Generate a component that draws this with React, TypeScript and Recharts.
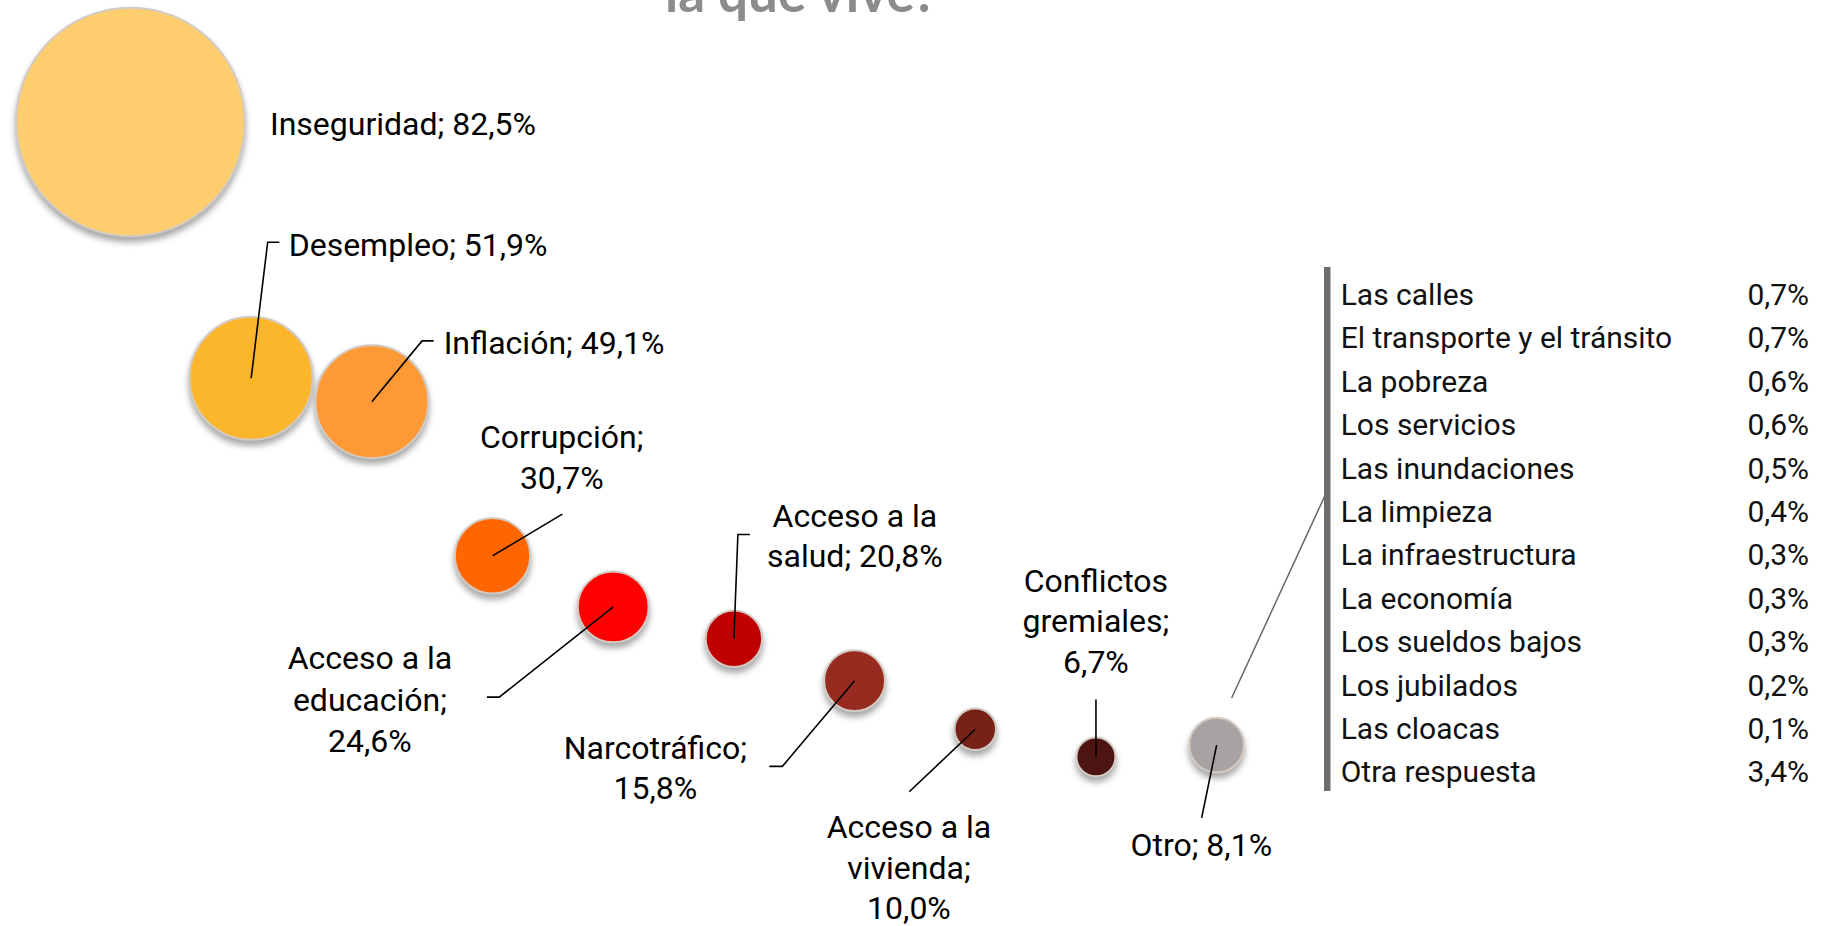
import React from 'react';
import { ScatterChart, Scatter, XAxis, YAxis, ZAxis, Cell } from 'recharts';

// ---- data ----
const categories = [
  'Inseguridad',
  'Desempleo',
  'Inflación',
  'Corrupción',
  'Acceso a la educación',
  'Acceso a la salud',
  'Narcotráfico',
  'Acceso a la vivienda',
  'Conflictos gremiales',
  'Otro',
];
const positions = [1, 2, 3, 4, 5, 6, 7, 8, 9, 10];
const percentages = [82.5, 51.9, 49.1, 30.7, 24.6, 20.8, 15.8, 10.0, 6.7, 8.1];
const bubbleSizes = [100, 29.0, 24.4, 10.9, 9.6, 6.1, 7.1, 3.3, 2.9, 5.7];

const otherCategories = [
  'Las calles',
  'El transporte y el tránsito',
  'La pobreza',
  'Los servicios',
  'Las inundaciones',
  'La limpieza',
  'La infraestructura',
  'La economía',
  'Los sueldos bajos',
  'Los jubilados',
  'Las cloacas',
  'Otra respuesta',
];
const otherValues = [0.7, 0.7, 0.6, 0.6, 0.5, 0.4, 0.3, 0.3, 0.3, 0.2, 0.1, 3.4];
const titleText = 'la que vive?';

// ---- styles ----
const bubbleColors = [
  '#FECD6E', '#FCB62C', '#FD9A36', '#FF6600', '#FF0000',
  '#C00000', '#982B1F', '#772219', '#4C1512', '#A6A3A2',
];

// label layout relative to bubble centre (manual label placement of the original)
type Layout = {
  lines: number[];
  anchor: 'start' | 'middle' | 'end';
  dx: number;
  dy: number[];
  leader: number[][] | null;
};
const labelLayout: Layout[] = [
  { lines: [2], anchor: 'start', dx: 139.5, dy: [13], leader: null },
  { lines: [2], anchor: 'start', dx: 37.5, dy: [-122.3], leader: [[16.5, -136], [28.2, -136]] },
  { lines: [2], anchor: 'start', dx: 71.8, dy: [-47.5], leader: [[50.2, -60.8], [61.8, -60.8]] },
  { lines: [1, 1], anchor: 'middle', dx: 69.2, dy: [-107.7, -66.7], leader: [[69.8, -41.7]] },
  { lines: [3, 1, 1], anchor: 'middle', dx: -243.3, dy: [62.5, 104.2, 145], leader: [[-114, 90.2], [-126.3, 90.2]] },
  { lines: [3, 2], anchor: 'middle', dx: 121, dy: [-111.6, -71.6], leader: [[4, -104.3], [16, -104.3]] },
  { lines: [1, 1], anchor: 'middle', dx: -199.2, dy: [78.3, 118.3], leader: [[-72.2, 85.7], [-85.3, 85.7]] },
  { lines: [3, 1, 1], anchor: 'middle', dx: -66.3, dy: [109.1, 149.6, 189.5], leader: [[-66, 62.5]] },
  { lines: [1, 1, 1], anchor: 'middle', dx: 0, dy: [-165.1, -125.1, -83.5], leader: [[0, -57.5]] },
  { lines: [2], anchor: 'middle', dx: -15.4, dy: [111.2], leader: [[-15, 72.8]] },
];
const OTRO_CONNECTOR = [[15, -47.2], [108.3, -249.5]];

const FONT = 'Roboto, "Noto Sans", sans-serif';
const fmt = (v: number) => v.toFixed(1).replace('.', ',') + '%';

const data = categories.map((name, i) => ({
  name,
  x: positions[i],
  y: percentages[i],
  z: bubbleSizes[i],
  idx: i,
}));

const Bubble = (props: any) => {
  const { cx, cy, fill } = props;
  const r = props.width ? props.width / 2 : Math.sqrt((props.size ?? 0) / Math.PI);
  if (cx == null || cy == null) return null;
  return (
    <circle
      cx={cx}
      cy={cy}
      r={r}
      fill={fill}
      stroke="#D3CBC3"
      strokeWidth={2}
      style={{ filter: 'drop-shadow(0px 5px 3px rgba(0,0,0,0.35))' }}
    />
  );
};

const LabelShape = (props: any) => {
  const { cx, cy, payload } = props;
  if (cx == null || cy == null || !payload) return null;
  const i = payload.idx;
  const lay = labelLayout[i];
  const words = `${payload.name}; ${fmt(payload.y)}`.split(' ');
  const lines: string[] = [];
  let p = 0;
  lay.lines.forEach((n) => {
    lines.push(words.slice(p, p + n).join(' '));
    p += n;
  });
  const pts = lay.leader ? [[0, 0], ...lay.leader] : null;
  return (
    <g>
      {pts && (
        <polyline
          points={pts.map(([a, b]) => `${cx + a},${cy + b}`).join(' ')}
          fill="none"
          stroke="#000"
          strokeWidth={1.6}
        />
      )}
      {i === categories.length - 1 && (
        <line
          x1={cx + OTRO_CONNECTOR[0][0]}
          y1={cy + OTRO_CONNECTOR[0][1]}
          x2={cx + OTRO_CONNECTOR[1][0]}
          y2={cy + OTRO_CONNECTOR[1][1]}
          stroke="#666"
          strokeWidth={1.5}
        />
      )}
      {lines.map((t, k) => (
        <text
          key={k}
          x={cx + lay.dx}
          y={cy + lay.dy[k]}
          textAnchor={lay.anchor}
          fontFamily={FONT}
          fontSize={32}
          fill="#000"
        >
          {t}
        </text>
      ))}
    </g>
  );
};

export default function App() {
  const rowStart = 305;
  const rowStep = 43.4;
  return (
    <div style={{ position: 'absolute', left: 0, top: 0, width: 1828, height: 926, background: '#fff' }}>
      <ScatterChart
        width={1828}
        height={926}
        margin={{ top: 0.5, right: 370, bottom: 113, left: 9.8 }}
      >
        <XAxis type="number" dataKey="x" domain={[0, 12]} hide />
        <YAxis type="number" dataKey="y" domain={[0, 97]} hide />
        <ZAxis type="number" dataKey="z" domain={[0, 100]} range={[0, Math.PI * 114.3 * 114.3]} />
        <Scatter data={data} shape={<Bubble />} isAnimationActive={false}>
          {data.map((d, i) => (
            <Cell key={d.name} fill={bubbleColors[i]} />
          ))}
        </Scatter>
        <Scatter data={data} shape={<LabelShape />} isAnimationActive={false} />
      </ScatterChart>
      <svg
        width={1828}
        height={926}
        style={{ position: 'absolute', left: 0, top: 0, pointerEvents: 'none' }}
      >
        <text x={665} y={12} fontFamily='Lato, "Open Sans", sans-serif' fontWeight={700} fontSize={53} fill="#8C8C8C">
          {titleText}
        </text>
        <rect x={1324} y={267} width={6.5} height={524} fill="#6D6D6D" />
        {otherCategories.map((c, i) => (
          <g key={c}>
            <text x={1340.7} y={rowStart + i * rowStep} fontFamily={FONT} fontSize={30} fill="#111">
              {c}
            </text>
            <text x={1809} y={rowStart + i * rowStep} textAnchor="end" fontFamily={FONT} fontSize={30} fill="#111">
              {fmt(otherValues[i])}
            </text>
          </g>
        ))}
      </svg>
    </div>
  );
}
